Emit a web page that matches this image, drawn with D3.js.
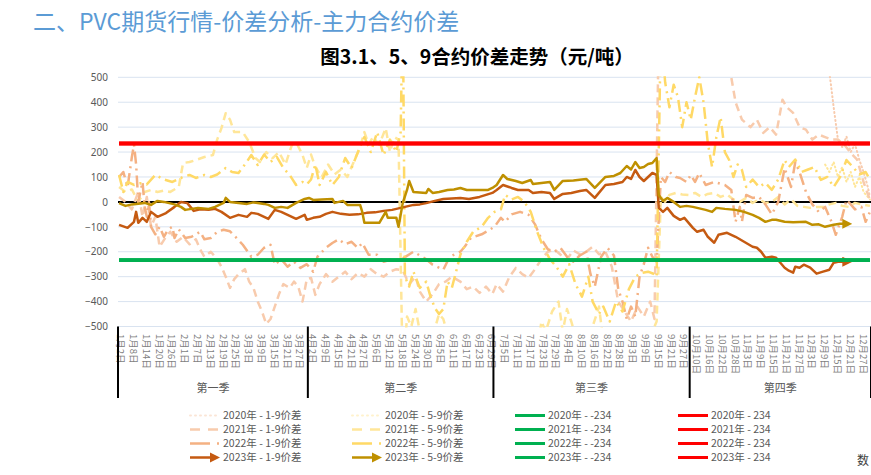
<!DOCTYPE html>
<html><head><meta charset="utf-8">
<script src="https://cdn.jsdelivr.net/npm/d3@7"></script>
<style>
body{margin:0;background:#fff;overflow:hidden;}
svg{display:block;font-family:"Noto Sans CJK SC","Noto Sans",sans-serif;}
</style></head><body>
<svg id="c" width="871" height="475"></svg>
<script>
// ---------- categories ----------
const monthDays = [31,28,31,30,31,30,31,31,30,31,30,31];
const holidays = ["1-1","4-5","5-1","5-2","5-3","10-1","10-2","10-3","10-4","10-5","10-6","10-7"];
const quarterNames = ["第一季","第二季","第三季","第四季"];
const yTicks = [-500,-400,-300,-200,-100,0,100,200,300,400,500];
const labelStep = 6;

// ---------- series: [category index, value] ----------
const s2020_19 = [[333,520],[335,380],[337,250],[339,220],[341,262],[343,200],[345,232],[347,170],[349,120],[351,60],[352,20]];
const s2021_19 = [[0,20],[3,0],[6,-30],[9,40],[11,-60],[13,20],[15,-100],[17,-60],[19,-180],[22,-140],[24,-120],[27,-160],[30,-140],[33,-170],[36,-150],[38,-190],[40,-220],[43,-200],[46,-230],[48,-260],[50,-300],[52,-345],[54,-310],[56,-290],[59,-270],[61,-320],[63,-345],[65,-400],[67,-440],[69,-490],[71,-470],[73,-420],[75,-370],[77,-330],[80,-345],[82,-320],[84,-340],[86,-400],[88,-310],[90,-305],[92,-373],[94,-330],[97,-290],[100,-320],[103,-300],[106,-280],[109,-310],[112,-285],[115,-300],[118,-270],[121,-290],[124,-300],[127,-280],[130,-270],[133,-275],[136,-330],[139,-300],[141,-360],[144,-400],[147,-370],[150,-330],[153,-320],[156,-300],[160,-320],[163,-350],[166,-340],[169,-365],[172,-340],[175,-370],[177,-330],[180,-360],[183,-300],[186,-265],[189,-290],[192,-305],[195,-270],[198,-230],[201,-200],[204,-190],[207,-212],[210,-230],[213,-195],[216,-210],[219,-200],[222,-180],[225,-210],[228,-200],[231,-260],[234,-400],[237,-440],[240,-480],[243,-420],[246,-460],[249,-400],[251,-470],[253,700],[256,800],[285,700],[287,500],[289,400],[292,330],[296,300],[299,330],[302,277],[305,300],[308,270],[311,410],[313,380],[316,357],[319,300],[322,290],[325,250],[328,270],[331,260],[334,250],[337,250],[340,230],[343,196],[346,170],[349,80],[352,8]];
const s2022_19 = [[0,100],[2,120],[4,60],[6,180],[7,230],[8,150],[9,0],[11,80],[12,-20],[13,-60],[14,0],[15,-100],[17,-130],[19,-100],[21,-140],[23,-110],[25,-100],[26,-145],[28,-110],[31,-145],[34,-140],[38,-120],[40,-150],[43,-145],[46,-120],[49,-112],[52,-118],[55,-144],[58,-172],[62,-220],[65,-212],[68,-184],[71,-172],[73,-252],[76,-230],[79,-260],[82,-240],[85,-265],[88,-250],[91,-280],[93,-220],[97,-184],[100,-165],[103,-150],[106,-170],[109,-160],[112,-185],[114,-165],[117,-212],[121,-212],[124,-240],[127,-232],[132,-232],[138,-200],[141,-215],[144,-230],[147,-252],[152,-272],[155,-220],[160,-200],[162,-180],[165,-144],[170,-130],[172,-120],[176,-100],[179,-64],[181,-80],[184,-50],[188,-40],[192,-52],[195,-90],[198,-150],[201,-190],[204,-200],[207,-185],[210,-220],[213,-240],[216,-215],[219,-200],[221,-290],[223,-340],[226,-220],[229,-185],[232,-215],[234,-350],[236,-400],[238,-470],[240,-420],[242,-460],[244,-300],[246,-250],[248,-184],[250,-220],[252,-240],[254,100],[256,80],[258,120],[261,100],[263,96],[266,80],[268,108],[270,80],[272,116],[275,68],[279,80],[284,68],[287,48],[289,-80],[291,-20],[292,-80],[294,28],[297,16],[300,20],[303,-10],[306,-50],[309,0],[312,136],[315,60],[317,160],[319,120],[322,40],[325,-10],[328,-40],[331,-20],[334,-80],[336,-132],[339,-60],[341,8],[343,-10],[345,-30],[348,-20],[350,-80],[352,-40]];
const s2023_19 = [[0,-92],[4,-104],[7,-80],[8,-40],[9,-84],[11,-64],[13,-80],[15,-40],[18,-60],[22,-45],[26,-20],[29,0],[32,-5],[35,-36],[38,-30],[42,-32],[45,-28],[48,-40],[52,-64],[56,-52],[60,-60],[62,-44],[65,-48],[70,-68],[73,-32],[76,-40],[79,-52],[83,-68],[87,-52],[88,-72],[91,-64],[94,-60],[97,-48],[100,-40],[104,-48],[108,-52],[112,-50],[116,-44],[120,-42],[124,-36],[128,-32],[132,-24],[135,-18],[138,-12],[141,-10],[144,-5],[148,4],[152,12],[156,14],[160,16],[164,12],[169,20],[172,28],[175,36],[177,48],[180,68],[184,56],[187,48],[192,48],[194,36],[198,40],[202,36],[204,12],[208,32],[212,36],[216,44],[219,48],[223,16],[228,68],[232,72],[236,80],[238,100],[240,92],[242,128],[244,100],[246,84],[248,100],[250,116],[252,108],[253,-24],[255,-40],[257,-24],[260,-56],[263,-72],[265,-64],[269,-104],[271,-120],[274,-112],[276,-140],[279,-164],[281,-132],[285,-124],[289,-140],[293,-160],[297,-180],[299,-184],[301,-200],[303,-224],[306,-220],[308,-224],[310,-244],[312,-264],[314,-276],[316,-284],[317,-260],[319,-264],[321,-252],[324,-264],[327,-288],[330,-280],[333,-272],[335,-244],[337,-240],[340,-240]];
const s2020_59 = [[331,150],[333,120],[335,160],[337,100],[339,140],[341,80],[343,120],[345,60],[347,100],[349,40],[351,20],[352,10]];
const s2021_59 = [[0,60],[3,40],[6,50],[9,0],[12,40],[15,48],[18,40],[21,45],[24,40],[28,60],[30,156],[33,160],[36,168],[40,180],[44,188],[46,250],[48,296],[50,356],[52,330],[54,280],[58,280],[61,240],[64,176],[66,160],[69,200],[72,176],[75,200],[78,150],[81,228],[83,240],[86,188],[88,136],[90,190],[92,140],[95,100],[98,150],[101,110],[104,130],[107,100],[110,160],[113,220],[115,280],[117,230],[119,260],[122,230],[125,296],[127,200],[129,260],[131,250],[133,-700],[135,-460],[137,-500],[139,-430],[141,-520],[145,-600],[150,-450],[152,-470],[154,-530],[196,-600],[198,-480],[200,-520],[203,-440],[206,-400],[208,-520],[210,-430],[212,-480],[214,-540],[218,-600],[222,-500],[225,-420],[227,-560],[235,-600],[245,-560],[250,-520],[252,-480],[254,20],[256,0],[258,28],[261,36],[264,30],[267,28],[270,36],[273,20],[276,32],[279,36],[282,20],[285,30],[288,10],[291,0],[294,16],[297,-4],[300,10],[303,-4],[306,0],[309,20],[312,-10],[315,10],[318,-16],[321,-20],[324,-24],[327,-20],[330,-20],[333,-10],[336,-4],[339,-16],[342,-20],[345,-4],[348,-10],[352,-16]];
const s2022_59 = [[0,108],[2,40],[4,80],[7,68],[10,75],[13,70],[17,108],[21,90],[25,80],[30,100],[33,108],[36,96],[40,108],[43,100],[46,110],[50,136],[53,120],[56,116],[59,150],[62,188],[65,148],[68,190],[71,160],[74,180],[77,136],[80,108],[83,68],[86,80],[88,70],[90,90],[92,150],[94,68],[97,120],[100,68],[103,100],[106,176],[109,136],[112,200],[115,260],[118,200],[121,280],[124,188],[127,250],[130,200],[132,280],[133,800],[134,-300],[136,-340],[138,-280],[141,-345],[144,-320],[146,-380],[148,-425],[150,-450],[152,-430],[154,-320],[156,-345],[158,-280],[160,-212],[163,-160],[166,-120],[170,-100],[173,-64],[176,-40],[179,-30],[181,28],[184,10],[187,20],[190,0],[193,-40],[196,-120],[199,-184],[202,-230],[205,-260],[208,-300],[211,-250],[214,-330],[217,-380],[220,-300],[222,-400],[225,-450],[227,-420],[230,-480],[233,-400],[236,-440],[239,-350],[242,-300],[245,-285],[248,-280],[251,-290],[252,-300],[254,700],[256,480],[258,380],[260,470],[262,420],[264,300],[266,400],[268,330],[270,420],[272,500],[274,400],[276,236],[278,140],[280,260],[282,340],[284,200],[286,168],[288,100],[290,150],[292,128],[294,60],[297,90],[300,60],[303,76],[306,48],[309,90],[312,168],[314,140],[317,170],[320,120],[323,130],[326,140],[329,88],[332,100],[335,60],[338,100],[341,168],[344,140],[347,110],[350,120],[352,90]];
const s2023_59 = [[0,-5],[3,-16],[6,-10],[8,-8],[12,-4],[15,-12],[18,4],[21,0],[23,-4],[26,-10],[29,-20],[31,-32],[34,-28],[37,-24],[42,-28],[45,-20],[49,-4],[50,16],[52,0],[56,-4],[60,-8],[63,-2],[65,-4],[68,-8],[70,-12],[73,-24],[76,-20],[79,-24],[83,-4],[87,12],[89,16],[91,8],[95,10],[100,12],[101,-4],[105,4],[107,-12],[113,-12],[114,-40],[115,-84],[122,-84],[125,-40],[126,-64],[130,-64],[131,-100],[133,-4],[135,48],[136,84],[138,40],[144,36],[145,52],[147,36],[150,40],[154,48],[157,50],[160,56],[163,48],[168,48],[173,48],[175,56],[177,68],[180,108],[182,92],[186,84],[189,76],[193,88],[194,72],[198,76],[202,80],[204,48],[208,84],[213,86],[219,92],[223,56],[228,100],[232,104],[235,116],[238,144],[240,130],[242,160],[244,136],[246,140],[248,152],[250,156],[252,176],[253,28],[255,4],[257,16],[260,0],[263,-20],[266,-16],[269,-20],[271,-24],[275,-32],[278,-40],[280,-24],[284,-28],[289,-32],[293,-40],[297,-52],[300,-64],[303,-80],[306,-72],[308,-72],[312,-80],[316,-82],[322,-80],[325,-92],[328,-90],[331,-100],[335,-92],[338,-88],[340,-88]];
const lowLine = -234, highLine = 234;
const years = ["2020","2021","2022","2023"];

// ---------- build categories ----------
const cats = [];
for (let m = 1; m <= 12; m++) {
  for (let d = 1; d <= monthDays[m-1]; d++) {
    const key = m + "-" + d;
    if (holidays.includes(key)) continue;
    cats.push({m, d, q: Math.floor((m-1)/3), label: m + "月" + d + "日"});
  }
}
const N = cats.length;

const svg = d3.select("#c");
const L = 118, R = 871, T = 77.3, B = 326.5;
const x = d3.scaleBand().domain(d3.range(N)).range([L, R]).padding(0);
const cx = i => x(i) + x.bandwidth()/2;
const y = d3.scaleLinear().domain([-500, 500]).range([B, T]);

// titles
svg.append("text").attr("x", 33).attr("y", 30).attr("font-size", 23).attr("fill", "#5B9BD5")
  .text("二、PVC期货行情-价差分析-主力合约价差");
svg.append("text").attr("x", 477).attr("y", 64).attr("text-anchor", "middle").attr("font-size", 19.5)
  .attr("font-weight", "bold").attr("fill", "#000").text("图3.1、5、9合约价差走势（元/吨）");

// gridlines
svg.append("g").selectAll("line").data(yTicks).join("line")
  .attr("x1", L).attr("x2", R).attr("y1", d => y(d)).attr("y2", d => y(d))
  .attr("stroke", "#D9E3F0").attr("stroke-width", 1);

// y axis labels
const ya = svg.append("g").attr("transform", `translate(${L},0)`)
  .call(d3.axisLeft(y).tickValues(yTicks).tickSize(0).tickPadding(10));
ya.select(".domain").remove();
ya.selectAll("text").attr("font-size", 10).attr("fill", "#595959").attr("font-family", "Noto Sans, sans-serif");

// zero axis line
svg.append("line").attr("x1", L).attr("x2", R).attr("y1", y(0)).attr("y2", y(0))
  .attr("stroke", "#000").attr("stroke-width", 2);

// x tick labels
const labIdx = d3.range(0, N, labelStep);
svg.append("g").selectAll("text").data(labIdx).join("text")
  .attr("transform", i => `translate(${cx(i) + 1.5},334) rotate(90)`)
  .attr("dy", "0.35em").attr("font-size", 9.5).attr("fill", "#7f7f7f")
  .text(i => cats[i].label);

// quarter separators + labels
const qBounds = [];
for (let q = 0; q < 4; q++) {
  const ids = cats.map((c, i) => c.q === q ? i : -1).filter(i => i >= 0);
  qBounds.push([x(ids[0]), x(ids[ids.length-1]) + x.bandwidth()]);
}
svg.append("g").selectAll("line").data(qBounds.map(b => b[0]).concat([R])).join("line")
  .attr("x1", d => d).attr("x2", d => d).attr("y1", B).attr("y2", 398)
  .attr("stroke", "#000").attr("stroke-width", 2);
svg.append("g").selectAll("text").data(qBounds).join("text")
  .attr("x", d => (d[0]+d[1])/2).attr("y", 392).attr("text-anchor", "middle")
  .attr("font-size", 11).attr("fill", "#595959").text((d, i) => quarterNames[i]);

// clip
svg.append("clipPath").attr("id", "pc").append("rect").attr("x", L).attr("y", T - 1).attr("width", R - L).attr("height", B - T + 2);

// arrow markers
const defs = svg.append("defs");
function marker(id, color) {
  defs.append("marker").attr("id", id).attr("viewBox", "0 0 10 10").attr("refX", 2).attr("refY", 5)
    .attr("markerWidth", 4).attr("markerHeight", 4).attr("orient", "auto").attr("markerUnits", "strokeWidth")
    .append("path").attr("d", "M0,0 L10,5 L0,10 z").attr("fill", color);
}
marker("a1", "#C55A11"); marker("a2", "#BF9000");

const line = d3.line().x(d => cx(d[0])).y(d => y(d[1]));
const series = [
  {name: "2020年 - 1-9价差", data: s2020_19, color: "#F8CBAD", dash: "1,3", w: 2, cap: "round"},
  {name: "2021年 - 1-9价差", data: s2021_19, color: "#F8CBAD", dash: "8,5", w: 2.5},
  {name: "2022年 - 1-9价差", data: s2022_19, color: "#F4B183", dash: "12,5,2,5", w: 2.5},
  {name: "2023年 - 1-9价差", data: s2023_19, color: "#C55A11", dash: null, w: 2.5, arrow: "a1"},
  {name: "2020年 - 5-9价差", data: s2020_59, color: "#FFE699", dash: "1,3", w: 2, cap: "round"},
  {name: "2021年 - 5-9价差", data: s2021_59, color: "#FFE699", dash: "8,5", w: 2.5},
  {name: "2022年 - 5-9价差", data: s2022_59, color: "#FFD966", dash: "12,5,2,5", w: 2.5},
  {name: "2023年 - 5-9价差", data: s2023_59, color: "#BF9000", dash: null, w: 2.5, arrow: "a2"}
];
const pg = svg.append("g").attr("clip-path", "url(#pc)");
const drawOrder = [0,4,1,5,2,6,3,7];
drawOrder.forEach(k => {
  const s = series[k];
  if (s.arrow) return;
  pg.append("path").attr("d", line(s.data)).attr("fill", "none").attr("stroke", s.color)
    .attr("stroke-width", s.w).attr("stroke-dasharray", s.dash).attr("stroke-linecap", s.cap || "butt")
    .attr("stroke-linejoin", "round");
});
// solid 2023 lines with arrows
[3,7].forEach(k => {
  const s = series[k];
  svg.append("path").attr("d", line(s.data)).attr("fill", "none").attr("stroke", s.color)
    .attr("stroke-width", s.w).attr("stroke-linejoin", "round").attr("marker-end", `url(#${s.arrow})`);
});
// reference lines
const refSeries = years.map(yr => ({yr, v: lowLine, color: "#00B050"})).concat(years.map(yr => ({yr, v: highLine, color: "#FF0000"})));
refSeries.forEach(r => {
  svg.append("path").attr("d", line([[0, r.v], [N-1, r.v]])).attr("stroke", r.color).attr("stroke-width", 3.5).attr("fill", "none");
});

// legend
const colX = [190, 352, 515, 678];
const rowY = [415.5, 429.5, 443.5, 457.5];
const lg = svg.append("g");
function legendItem(col, row, label, color, dash, w, cap, arrow) {
  const x0 = colX[col], yy = rowY[row];
  if (arrow) {
    lg.append("line").attr("x1", x0).attr("x2", x0 + 22).attr("y1", yy).attr("y2", yy).attr("stroke", color).attr("stroke-width", 2.5);
    lg.append("path").attr("d", `M${x0+20},${yy-5} L${x0+30},${yy} L${x0+20},${yy+5} z`).attr("fill", color);
  } else {
    lg.append("line").attr("x1", x0).attr("x2", x0 + 30).attr("y1", yy).attr("y2", yy).attr("stroke", color)
      .attr("stroke-width", w).attr("stroke-dasharray", dash).attr("stroke-linecap", cap || "butt");
  }
  lg.append("text").attr("x", x0 + 33).attr("y", yy).attr("dy", "0.35em").attr("font-size", 10.5).attr("fill", "#595959").text(label);
}
const legDash = [["1,4", 2, "round"], ["10,8", 2.5], ["20,7,2,1", 2.5], [null, 2.5]];
series.forEach((s, k) => {
  const col = k < 4 ? 0 : 1, row = k % 4;
  const sty = legDash[row];
  legendItem(col, row, s.name, row === 0 ? (col === 0 ? "#FBE5D6" : "#FFF2CC") : s.color, sty[0], sty[1], sty[2], s.arrow);
});
years.forEach((yr, r) => {
  legendItem(2, r, yr + "年 - " + lowLine, "#00B050", null, 3);
  legendItem(3, r, yr + "年 - " + highLine, "#FF0000", null, 3);
});
svg.append("text").attr("x", 857).attr("y", 465).attr("font-size", 12).attr("fill", "#404040").text("数");
</script>
</body></html>
